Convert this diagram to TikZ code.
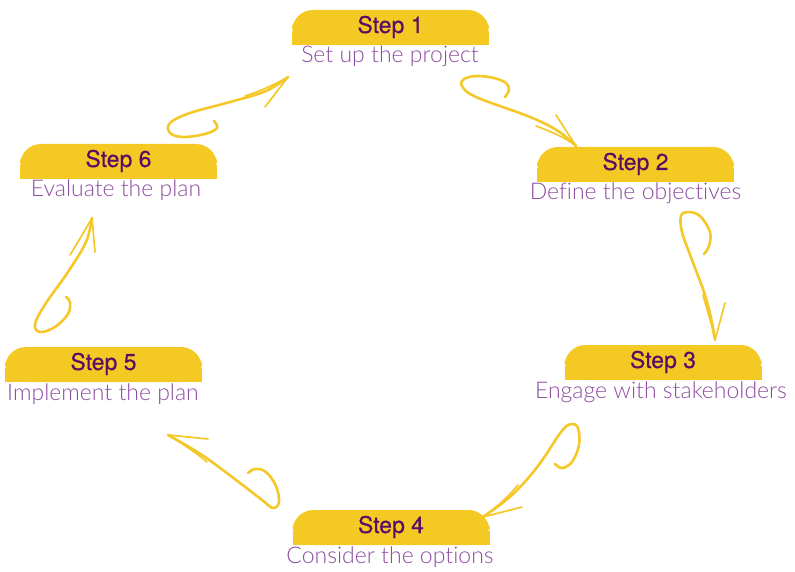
\documentclass[tikz,border=0pt]{standalone}
\usepackage{fontspec}
\setmainfont{TeX Gyre Heros}
\newfontfamily\stepfont{TeX Gyre Heros}[FakeBold=0.3]
\newfontfamily\lightfont{Lato}[UprightFont={* Light}, Ligatures=NoCommon]
\definecolor{tabyellow}{RGB}{245,201,36}
\definecolor{stepcol}{RGB}{88,14,100}
\definecolor{subcol}{RGB}{140,76,158}
\definecolor{arrowcol}{RGB}{244,200,40}
\tikzset{
  tabfill/.style={fill=tabyellow},
  steptext/.style={anchor=base, text=stepcol, font=\stepfont\fontsize{23}{26}\selectfont, inner sep=0pt},
  subtext/.style={anchor=base, text=subcol, font=\lightfont\fontsize{23}{26}\selectfont, inner sep=0pt},
  sw/.style={draw=arrowcol, line width=2.6pt, line cap=round, line join=round},
  barb/.style={draw=arrowcol, line width=1.7pt, line cap=round, line join=round}
}
\newcommand\steptab[6]{%
  \fill[tabfill, rounded corners=21pt] (#2-98.5,#3) rectangle (#2+98.5,#3+35);
  \fill[tabfill] (#2-98.5,#3+21) rectangle (#2+98.5,#3+35);
  \node[steptext] (#1) at (#2,#3+23) {#4};
  \node[subtext] (#1sub) at (#6,#3+53) {#5};
}
\begin{document}
\begin{tikzpicture}[x=1pt,y=-1pt]
\useasboundingbox (0,0) rectangle (795,572);
\steptab{s1}{390.5}{10}{Step 1}{Set up the project}{390}
\steptab{s2}{635.5}{147}{Step 2}{Define the objectives}{635.5}
\steptab{s3}{663}{345}{Step 3}{Engage with stakeholders}{661}
\steptab{s4}{391}{510}{Step 4}{Consider the options}{390}
\steptab{s5}{103.5}{347}{Step 5}{Implement the plan}{103}
\steptab{s6}{118.5}{144}{Step 6}{Evaluate the plan}{116}

% arrow 1 -> 2
\coordinate (tA) at (576,146);
\draw[sw] plot[smooth, tension=0.6] coordinates {(505,97) (509,90) (506,83) (494,78) (477,76) (464,79) (462,86) (476,97) (530,117) (558,131) (tA)};
\draw[barb] (536,126) .. controls (552,132) and (566,138) .. (tA);
\draw[barb] (556,115) -- (tA);

% arrow 2 -> 3
\coordinate (tB) at (715,340);
\draw[sw] plot[smooth, tension=0.6] coordinates {(704,254) (709,246) (710,232) (700,216) (688,212) (681,216) (682,232) (692,260) (704,292) (711,318) (tB)};
\draw[barb] (703,295) .. controls (707,310) and (712,325) .. (tB);
\draw[barb] (725,303) -- (tB);

% arrow 3 -> 4
\coordinate (tC) at (483,517);
\draw[sw] plot[smooth, tension=0.6] coordinates {(555,464) (562,468) (572,462) (579,445) (578,428) (571,424) (561,432) (538,466) (512,495) (tC)};
\draw[barb] (518,485) .. controls (508,497) and (496,508) .. (tC);
\draw[barb] (522,507) -- (tC);

% arrow 4 -> 5
\coordinate (tD) at (168,435);
\draw[sw] plot[smooth, tension=0.6] coordinates {(248,473) (255,469) (266,472) (276,486) (279,502) (273,508) (262,500) (240,483) (202,455) (tD)};
\draw[barb] (207,462) .. controls (195,452) and (180,442) .. (tD);
\draw[barb] (208,439) -- (tD);

% arrow 5 -> 6
\coordinate (tE) at (92,218);
\draw[sw] plot[smooth, tension=0.6] coordinates {(66,297) (70,302) (68,314) (55,327) (40,332) (35,324) (46,303) (68,272) (86,242) (tE)};
\draw[barb] (70,255) .. controls (78,242) and (85,230) .. (tE);
\draw[barb] (95,252) -- (tE);

% arrow 6 -> 1
\coordinate (tF) at (288,77);
\draw[sw] plot[smooth, tension=0.6] coordinates {(214,121) (217,128) (205,134) (183,137) (170,133) (170,123) (190,113) (230,102) (266,91) (tF)};
\draw[barb] (245,96) .. controls (258,92) and (272,86) .. (tF);
\draw[barb] (265,107) -- (tF);
\end{tikzpicture}
\end{document}
